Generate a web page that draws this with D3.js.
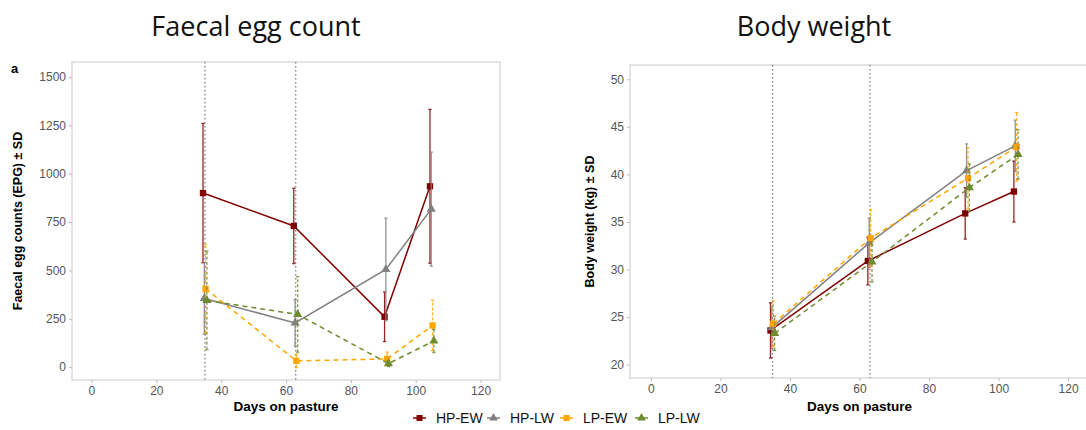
<!DOCTYPE html>
<html>
<head>
<meta charset="utf-8">
<script src="https://cdn.jsdelivr.net/npm/d3@7"></script>
<style>
  body { margin: 0; background: #fff; }
  svg { display: block; font-family: "Liberation Sans", Arial, sans-serif; }
</style>
</head>
<body>
<svg id="chart" width="1086" height="430"></svg>
<script>
// ---- data ----
const groups = ["HP-EW", "HP-LW", "LP-EW", "LP-LW"];
const days = [35, 63, 91, 105];
const markLines = [35, 63];

// faecal egg counts (mean, sd)
const fecMean = {
  "HP-EW": [900, 730, 260, 935],
  "HP-LW": [355, 228, 505, 817],
  "LP-EW": [405, 32, 42, 215],
  "LP-LW": [345, 272, 18, 135]
};
const fecSD = {
  "HP-EW": [360, 195, 128, 398],
  "HP-LW": [185, 120, 265, 295],
  "LP-EW": [230, 35, 35, 130],
  "LP-LW": [255, 195, 15, 60]
};

// body weight (mean, sd)
const bwMean = {
  "HP-EW": [23.6, 30.9, 35.9, 38.2],
  "HP-LW": [23.9, 32.8, 40.4, 43.0],
  "LP-EW": [24.3, 33.3, 39.6, 42.9],
  "LP-LW": [23.3, 30.8, 38.6, 42.1]
};
const bwSD = {
  "HP-EW": [2.9, 2.5, 2.7, 3.2],
  "HP-LW": [2.2, 2.6, 2.8, 2.7],
  "LP-EW": [2.4, 3.0, 3.2, 3.6],
  "LP-LW": [1.8, 2.1, 2.5, 2.6]
};

const fecTicks = [0, 250, 500, 750, 1000, 1250, 1500];
const bwTicks = [20, 25, 30, 35, 40, 45, 50];
const dayTicks = [0, 20, 40, 60, 80, 100, 120];

// ---- styling ----
const colors = { "HP-EW": "#800000", "HP-LW": "#808080", "LP-EW": "#FFA500", "LP-LW": "#6E8B2E" };
const dashed = { "HP-EW": false, "HP-LW": false, "LP-EW": true, "LP-LW": true };
const shapes = { "HP-EW": d3.symbolSquare, "HP-LW": d3.symbolTriangle, "LP-EW": d3.symbolSquare, "LP-LW": d3.symbolTriangle };
const dodge = d3.scalePoint().domain(groups).range([-0.6, 0.6]);

const svg = d3.select("#chart");

function drawPanel(opt) {
  const { x, y, means, sds, yTicks, yTitle, title, titleX } = opt;
  const g = svg.append("g");
  const [x0, x1] = x.range();
  const [y0, y1] = y.range();

  // panel border
  g.append("rect")
    .attr("x", x0).attr("y", y1)
    .attr("width", x1 - x0).attr("height", y0 - y1)
    .attr("fill", "none").attr("stroke", "#dcdcdc").attr("stroke-width", 1.5);

  // axes
  const ax = g.append("g").attr("transform", `translate(0,${y0})`)
    .call(d3.axisBottom(x).tickValues(dayTicks).tickFormat(d3.format("d")).tickSize(3).tickPadding(3));
  const ay = g.append("g").attr("transform", `translate(${x0},0)`)
    .call(d3.axisLeft(y).tickValues(yTicks).tickFormat(d3.format("d")).tickSize(3).tickPadding(3));
  [ax, ay].forEach(a => {
    a.select(".domain").remove();
    a.selectAll(".tick line").attr("stroke", "#bdbdbd");
    a.selectAll(".tick text").attr("fill", "#555").attr("font-size", 12)
      .attr("font-family", "Liberation Sans, Arial, sans-serif");
  });

  // vertical dotted reference lines
  g.selectAll(".vline").data(markLines).enter().append("line")
    .attr("x1", d => x(d)).attr("x2", d => x(d))
    .attr("y1", y1).attr("y2", y0)
    .attr("stroke", "#777").attr("stroke-width", 1.2)
    .attr("stroke-dasharray", "1.5,2.5");

  groups.forEach(gr => {
    const pts = days.map((d, i) => ({ day: d + dodge(gr), m: means[gr][i], sd: sds[gr][i] }));
    const col = colors[gr];
    const dash = dashed[gr] ? "5,4" : null;

    // error bars
    const eb = g.append("g").attr("stroke", col).attr("stroke-width", 1.3).attr("opacity", 0.85);
    pts.forEach(p => {
      const px = x(p.day);
      eb.append("line").attr("x1", px).attr("x2", px)
        .attr("y1", y(p.m - p.sd)).attr("y2", y(p.m + p.sd))
        .attr("stroke-dasharray", dashed[gr] ? "3,2" : null);
      [p.m - p.sd, p.m + p.sd].forEach(v => {
        eb.append("line").attr("x1", px - 1.6).attr("x2", px + 1.6)
          .attr("y1", y(v)).attr("y2", y(v));
      });
    });

    // line
    g.append("path").datum(pts)
      .attr("d", d3.line().x(p => x(p.day)).y(p => y(p.m)))
      .attr("fill", "none").attr("stroke", col).attr("stroke-width", 1.5)
      .attr("stroke-dasharray", dash);

    // points
    g.selectAll(null).data(pts).enter().append("path")
      .attr("d", d3.symbol().type(shapes[gr]).size(shapes[gr] === d3.symbolSquare ? 40 : 36))
      .attr("transform", p => `translate(${x(p.day)},${y(p.m)})`)
      .attr("fill", col);
  });

  // axis titles
  const cx = (x0 + x1) / 2;
  g.append("text").attr("x", cx).attr("y", 411)
    .attr("text-anchor", "middle").attr("font-size", 13.5).attr("font-weight", "bold")
    .attr("fill", "#000").text("Days on pasture");
  g.append("text")
    .attr("transform", `translate(${opt.yTitleX},${(y0 + y1) / 2}) rotate(-90)`)
    .attr("text-anchor", "middle").attr("font-size", 12.5).attr("font-weight", "bold")
    .attr("fill", "#000").text(yTitle);

  // panel title
  svg.append("text").attr("x", titleX).attr("y", 36)
    .attr("text-anchor", "middle").attr("font-size", 27)
    .attr("font-family", "Open Sans, Noto Sans, sans-serif")
    .attr("fill", "#111").text(title);
}

const xL = d3.scaleLinear().domain([-6, 126]).range([72, 500]);
const yL = d3.scaleLinear().domain([-67, 1578]).range([380, 62]);
const xR = d3.scaleLinear().domain([-6, 126]).range([630, 1089]);
const yR = d3.scaleLinear().domain([18.6, 51.5]).range([378, 65]);

drawPanel({ x: xL, y: yL, means: fecMean, sds: fecSD, yTicks: fecTicks,
  yTitle: "Faecal egg counts (EPG) ± SD", yTitleX: 22, title: "Faecal egg count", titleX: 256 });
drawPanel({ x: xR, y: yR, means: bwMean, sds: bwSD, yTicks: bwTicks,
  yTitle: "Body weight (kg) ± SD", yTitleX: 594, title: "Body weight", titleX: 814 });

// panel tag
svg.append("text").attr("x", 11).attr("y", 73).attr("font-size", 13)
  .attr("font-weight", "bold").text("a");

// legend
const legendX = [413, 487, 560, 635];
const lg = svg.append("g");
groups.forEach((gr, i) => {
  const lx = legendX[i];
  const it = lg.append("g").attr("transform", `translate(${lx},418)`);
  it.append("line").attr("x1", 0).attr("x2", 13).attr("y1", 0).attr("y2", 0)
    .attr("stroke", colors[gr]).attr("stroke-width", 1.5);
  it.append("path")
    .attr("d", d3.symbol().type(shapes[gr]).size(shapes[gr] === d3.symbolSquare ? 36 : 32))
    .attr("transform", "translate(6.5,0)").attr("fill", colors[gr]);
  it.append("text").attr("x", 23).attr("y", 5).attr("font-size", 14)
    .attr("fill", "#111").text(gr);
});
</script>
</body>
</html>
